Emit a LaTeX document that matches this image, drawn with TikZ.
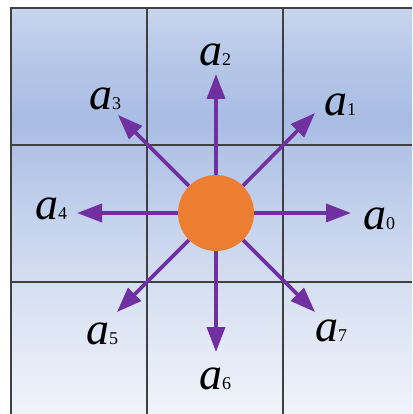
\documentclass[tikz,border=0pt]{standalone}
\usepackage{fontspec}
\setmainfont{Liberation Serif}
\usetikzlibrary{arrows.meta}
\definecolor{gridc}{HTML}{404040}
\definecolor{arrc}{HTML}{7030A0}
\definecolor{dotc}{HTML}{ED7D31}
\definecolor{bgA}{HTML}{F0F3FA}
\definecolor{bgB}{HTML}{D9E2F3}
\definecolor{bgC}{HTML}{C3D1EC}
\definecolor{bgD}{HTML}{A9BCE3}
\definecolor{bgE}{HTML}{B6C7E8}
\definecolor{bgF}{HTML}{C8D5EE}
\pgfdeclareverticalshading{bgshade}{100bp}{color(0bp)=(bgA); color(25bp)=(bgA); color(39bp)=(bgB); color(49.75bp)=(bgC); color(61.2bp)=(bgD); color(68.6bp)=(bgE); color(75bp)=(bgF); color(100bp)=(bgF)}
\newcommand{\lbl}[1]{{\fontsize{46}{46}\selectfont\itshape a}{\fontsize{18}{18}\selectfont #1}}
\tikzset{
  gridline/.style={draw=gridc, line width=1.1pt},
  arr/.style={draw=arrc, line width=3.6pt, -{Triangle[length=25pt,width=18pt]}},
  dot/.style={circle, fill=dotc, minimum size=76pt, inner sep=0pt},
  lab/.style={inner sep=0pt}
}
\begin{document}
\begin{tikzpicture}[x=1pt,y=-1pt]
\useasboundingbox (0,0) rectangle (412,414);
\shade[shading=bgshade] (11,8) rectangle (412,414);
\draw[gridline] (11,414) -- (11,8) -- (412,8);
\draw[gridline] (147,8) -- (147,414);
\draw[gridline] (283,8) -- (283,414);
\draw[gridline] (11,145) -- (412,145);
\draw[gridline] (11,282) -- (412,282);
\node[dot] (c) at (216,213) {};
\coordinate (t0) at (351,213);
\coordinate (t1) at (315,113);
\coordinate (t2) at (216,74);
\coordinate (t3) at (118,115);
\coordinate (t4) at (77,213);
\coordinate (t5) at (117,312);
\coordinate (t6) at (216,352);
\coordinate (t7) at (315,312);
\foreach \i in {0,...,7} { \draw[arr] (c) -- (t\i); }
\node[lab] (l0) at (379,219) {\lbl{0}};
\node[lab] (l1) at (340,105) {\lbl{1}};
\node[lab] (l2) at (215,55) {\lbl{2}};
\node[lab] (l3) at (105,99) {\lbl{3}};
\node[lab] (l4) at (51,209) {\lbl{4}};
\node[lab] (l5) at (102,334) {\lbl{5}};
\node[lab] (l6) at (215,379) {\lbl{6}};
\node[lab] (l7) at (331,331) {\lbl{7}};
\end{tikzpicture}
\end{document}
